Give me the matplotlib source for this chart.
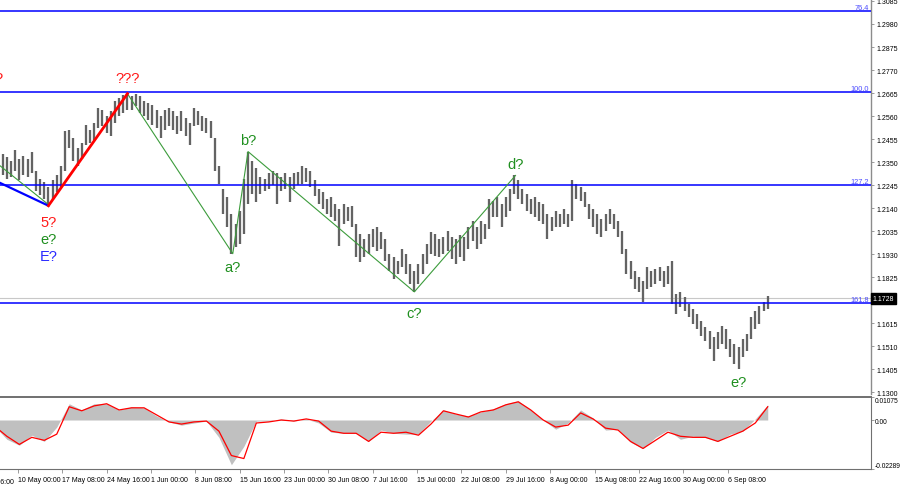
import matplotlib
matplotlib.use("Agg")
import matplotlib.pyplot as plt
import numpy as np
from matplotlib.transforms import blended_transform_factory

plt.rcParams['font.family'] = ['Liberation Sans', 'DejaVu Sans']

# ---------------- data ----------------
# price bars (H4 bar index = bar_start + bar_step * i)
bar_start, bar_step = 18, 3
highs = [
    1.2366, 1.2385, 1.2375, 1.2353, 1.2403, 1.2366, 1.2380, 1.2362, 1.2398, 1.2311,
    1.2275, 1.2257, 1.2238, 1.2266, 1.2293, 1.2330, 1.2490, 1.2495, 1.2458, 1.2412,
    1.2435, 1.2518, 1.2495, 1.2527, 1.2595, 1.2586, 1.2559, 1.2582, 1.2627, 1.2641,
    1.2655, 1.2664, 1.2650, 1.2659, 1.2650, 1.2627, 1.2618, 1.2609, 1.2586, 1.2559,
    1.2586, 1.2595, 1.2582, 1.2559, 1.2582, 1.2550, 1.2527, 1.2595, 1.2582, 1.2559,
    1.2550, 1.2536, 1.2458, 1.2330, 1.2229, 1.2192, 1.2115, 1.2069, 1.2128, 1.2275,
    1.2398, 1.2357, 1.2321, 1.2284, 1.2275, 1.2302, 1.2311, 1.2298, 1.2284, 1.2302,
    1.2284, 1.2298, 1.2307, 1.2330, 1.2321, 1.2311, 1.2266, 1.2229, 1.2215, 1.2183,
    1.2192, 1.2160, 1.2138, 1.2160, 1.2147, 1.2151, 1.2069, 1.2023, 1.2000, 1.2023,
    1.2046, 1.2055, 1.2032, 1.2000, 1.1932, 1.1918, 1.1900, 1.1954, 1.1932, 1.1886,
    1.1854, 1.1886, 1.1932, 1.1977, 1.2032, 1.2023, 1.2000, 1.2009, 1.2037, 1.2009,
    1.2000, 1.2019, 1.2009, 1.2055, 1.2082, 1.2055, 1.2082, 1.2069, 1.2183, 1.2174,
    1.2192, 1.2160, 1.2192, 1.2229, 1.2289, 1.2266, 1.2229, 1.2206, 1.2183, 1.2192,
    1.2170, 1.2160, 1.2115, 1.2101, 1.2128, 1.2115, 1.2138, 1.2115, 1.2266, 1.2252,
    1.2238, 1.2215, 1.2160, 1.2138, 1.2115, 1.2092, 1.2115, 1.2138, 1.2115, 1.2082,
    1.2037, 1.1954, 1.1900, 1.1854, 1.1826, 1.1808, 1.1872, 1.1854, 1.1863, 1.1872,
    1.1854, 1.1877, 1.1900, 1.1749, 1.1758, 1.1735, 1.1703, 1.1680, 1.1657, 1.1625,
    1.1597, 1.1579, 1.1552, 1.1575, 1.1602, 1.1588, 1.1543, 1.1520, 1.1506, 1.1543,
    1.1565, 1.1643, 1.1671, 1.1694, 1.1712, 1.1738,
]
lows = [
    1.2284, 1.2293, 1.2275, 1.2284, 1.2311, 1.2270, 1.2293, 1.2284, 1.2298, 1.2220,
    1.2202, 1.2183, 1.2160, 1.2183, 1.2215, 1.2238, 1.2311, 1.2412, 1.2357, 1.2334,
    1.2366, 1.2426, 1.2435, 1.2449, 1.2504, 1.2513, 1.2481, 1.2467, 1.2527, 1.2559,
    1.2572, 1.2586, 1.2586, 1.2604, 1.2572, 1.2559, 1.2540, 1.2518, 1.2504, 1.2458,
    1.2495, 1.2513, 1.2495, 1.2476, 1.2490, 1.2467, 1.2426, 1.2513, 1.2518, 1.2490,
    1.2481, 1.2458, 1.2311, 1.2252, 1.2115, 1.2055, 1.1932, 1.1963, 1.1977, 1.2023,
    1.2160, 1.2206, 1.2170, 1.2206, 1.2220, 1.2229, 1.2247, 1.2160, 1.2220, 1.2229,
    1.2170, 1.2229, 1.2247, 1.2252, 1.2261, 1.2238, 1.2197, 1.2160, 1.2138, 1.2115,
    1.2101, 1.2082, 1.1968, 1.2069, 1.2082, 1.2055, 1.1918, 1.1895, 1.1918, 1.1932,
    1.1963, 1.1945, 1.1954, 1.1900, 1.1854, 1.1817, 1.1840, 1.1872, 1.1840, 1.1794,
    1.1758, 1.1794, 1.1840, 1.1886, 1.1932, 1.1922, 1.1918, 1.1932, 1.1945, 1.1909,
    1.1886, 1.1918, 1.1900, 1.1954, 1.1991, 1.1954, 1.1977, 1.2000, 1.2046, 1.2101,
    1.2101, 1.2055, 1.2101, 1.2128, 1.2206, 1.2183, 1.2160, 1.2128, 1.2115, 1.2101,
    1.2082, 1.2069, 1.2000, 1.2037, 1.2055, 1.2055, 1.2069, 1.2055, 1.2082, 1.2183,
    1.2174, 1.2147, 1.2092, 1.2055, 1.2023, 1.2009, 1.2037, 1.2069, 1.2046, 1.2009,
    1.1932, 1.1840, 1.1817, 1.1772, 1.1758, 1.1712, 1.1772, 1.1781, 1.1794, 1.1808,
    1.1781, 1.1794, 1.1703, 1.1657, 1.1689, 1.1671, 1.1643, 1.1611, 1.1588, 1.1556,
    1.1533, 1.1497, 1.1442, 1.1497, 1.1520, 1.1497, 1.1460, 1.1428, 1.1405, 1.1460,
    1.1488, 1.1543, 1.1588, 1.1611, 1.1671, 1.1680,
]

# MACD (H4 bar index = macd_start + macd_step * k)
macd_start, macd_step = 15, 9
macd_main = [
    -0.0028, -0.0090, -0.0118, -0.0071, -0.0100, -0.0033, 0.0076, 0.0047, 0.0076, 0.0076,
    0.0047, 0.0062, 0.0057, 0.0019, -0.0009, -0.0024, -0.0014, -0.0005, -0.0081, -0.0209,
    -0.0123, -0.0005, -0.0005, 0.0005, -0.0005, 0.0005, -0.0014, -0.0057, -0.0062, -0.0062,
    -0.0100, -0.0047, -0.0062, -0.0066, -0.0066, -0.0005, 0.0047, 0.0028, 0.0019, 0.0038,
    0.0052, 0.0076, 0.0090, 0.0047, 0.0000, -0.0043, -0.0014, 0.0047, 0.0009, -0.0047,
    -0.0043, -0.0104, -0.0133, -0.0081, -0.0047, -0.0090, -0.0076, -0.0081, -0.0100, -0.0066,
    -0.0052, 0.0005, 0.0071,
]
macd_signal = [
    -0.0028, -0.0076, -0.0114, -0.0081, -0.0095, -0.0066, 0.0062, 0.0043, 0.0066, 0.0076,
    0.0047, 0.0057, 0.0057, 0.0024, -0.0009, -0.0019, -0.0009, -0.0005, -0.0052, -0.0166,
    -0.0180, -0.0014, -0.0009, 0.0000, -0.0005, 0.0005, -0.0005, -0.0052, -0.0062, -0.0062,
    -0.0100, -0.0057, -0.0062, -0.0057, -0.0071, -0.0019, 0.0043, 0.0028, 0.0014, 0.0038,
    0.0047, 0.0071, 0.0085, 0.0047, 0.0000, -0.0033, -0.0024, 0.0033, 0.0005, -0.0038,
    -0.0047, -0.0100, -0.0133, -0.0095, -0.0057, -0.0076, -0.0081, -0.0081, -0.0100, -0.0076,
    -0.0052, -0.0014, 0.0062,
]
macd_range = (-0.02289, 0.01075)

# fib levels
fib_levels = [1.3041, 1.2672, 1.2247, 1.1706]
fib_names = ["76.4", "100.0", "127.2", "161.8"]
last_price = 1.1728

# wave mark-up (bar index, price)
green_in_bars, green_in_prices = [0, 54], [1.2430, 1.2156]
blue_bars, blue_prices = [0, 54], [1.2312, 1.2151]
red_bars, red_prices = [54, 111], [1.2151, 1.2662]
green_bars = [111, 187, 198, 318, 391]
green_prices = [1.2662, 1.1932, 1.2398, 1.1758, 1.2289]

price_ticks = [1.3085, 1.2980, 1.2875, 1.2770, 1.2665, 1.2560, 1.2455, 1.2350, 1.2245,
               1.2140, 1.2035, 1.1930, 1.1825, 1.1615, 1.1510, 1.1405, 1.1300]
date_step = 32
date_labels = ["3 May 16:00", "10 May 00:00", "17 May 08:00", "24 May 16:00", "1 Jun 00:00",
               "8 Jun 08:00", "15 Jun 16:00", "23 Jun 00:00", "30 Jun 08:00", "7 Jul 16:00",
               "15 Jul 00:00", "22 Jul 08:00", "29 Jul 16:00", "8 Aug 00:00", "15 Aug 08:00",
               "22 Aug 16:00", "30 Aug 00:00", "6 Sep 08:00"]

# ---------------- layout ----------------
W, H = 900, 485
fig = plt.figure(figsize=(W / 100, H / 100), dpi=100)
fig.patch.set_facecolor('white')


def frac(x0, y0, x1, y1):
    return [x0 / W, 1 - y1 / H, (x1 - x0) / W, (y1 - y0) / H]


ax = fig.add_axes(frac(0, 0, 871, 395))
axm = fig.add_axes(frac(0, 398, 871, 470), sharex=ax)

xlim = (19.05, 647.5)
ax.set_xlim(*xlim)
ax.set_ylim(1.1292, 1.3094)

# bars
xb = bar_start + bar_step * np.arange(len(highs))
ax.vlines(xb, lows, highs, color='#636363', lw=1.65, zorder=3)

# levels
ylab_tr = blended_transform_factory(ax.transAxes, ax.transData)
ax.axhline(last_price, color='#c8c8c8', lw=0.8, zorder=1)
for lev, name in zip(fib_levels, fib_names):
    ax.axhline(lev, color='#0000ff', lw=1.1, zorder=4)
    ax.text(0.998, lev, name, transform=ylab_tr, ha='right', va='bottom',
            fontsize=5.3, color='#4a4aff', zorder=5)

# wave lines
green = '#3c9c3c'
ax.plot(green_in_bars, green_in_prices, color=green, lw=0.8, zorder=4)
ax.plot(blue_bars, blue_prices, color='#0000ff', lw=1.6, zorder=4)
ax.plot(red_bars, red_prices, color='#ff0000', lw=2.0, zorder=5)
ax.plot(green_bars, green_prices, color=green, lw=0.8, zorder=4)

lab_green = '#1f8f1f'
def lab(text, x, y, dy_px, color):
    ax.annotate(text, xy=(x, y), xytext=(0, dy_px / 1.389), textcoords='offset points',
                ha='center', va='center', fontsize=10.5, color=color, zorder=6)

lab('???', red_bars[1], red_prices[1], 16, '#ff1a1a')
lab('5?', red_bars[0], red_prices[0], -16, '#ff1a1a')
lab('e?', red_bars[0], red_prices[0], -33, lab_green)
lab('E?', red_bars[0], red_prices[0], -50, '#2a2aff')
lab('a?', green_bars[1], green_prices[1], -13, lab_green)
lab('b?', green_bars[2], green_prices[2], 12, lab_green)
lab('c?', green_bars[3], green_prices[3], -21, lab_green)
lab('d?', green_bars[4], green_prices[4], 11, lab_green)
lab('e?', xb[int(np.argmin(lows))], min(lows), -13, lab_green)
ax.text(0.003, 1.2733, '?', transform=ylab_tr, ha='right', va='center',
        fontsize=10.5, color='#ff1a1a', clip_on=False)

# main axis styling
for s in ('left', 'top', 'bottom'):
    ax.spines[s].set_visible(False)
ax.spines['right'].set_color('#8c8c8c')
ax.spines['right'].set_linewidth(1.0)
ax.yaxis.tick_right()
ax.set_yticks(price_ticks)
ax.set_yticklabels([f"{t:.4f}" for t in price_ticks])
ax.tick_params(axis='y', length=2.5, width=0.6, color='#8c8c8c', labelsize=5, pad=1.5)
ax.tick_params(axis='x', which='both', bottom=False, labelbottom=False)
ax.text(1.002, last_price, '1.1728', transform=ylab_tr, ha='left', va='center',
        fontsize=5, color='white', zorder=7, clip_on=False,
        bbox=dict(boxstyle='square,pad=0.3', fc='black', ec='black'))

# MACD
xm = macd_start + macd_step * np.arange(len(macd_main))
axm.fill_between(xm, 0, macd_main, color='#c0c0c0', lw=0, zorder=2)
axm.plot(xm, macd_signal, color='#ff0000', lw=0.9, zorder=3)
axm.set_ylim(*macd_range)
axm.spines['left'].set_visible(False)
for s in ('top', 'bottom', 'right'):
    axm.spines[s].set_color('#707070')
axm.spines['top'].set_linewidth(1.4)
axm.yaxis.tick_right()
axm.set_yticks([macd_range[1], 0.0, macd_range[0]])
axm.set_yticklabels(['0.01075', '0.00', '-0.02289'])
labs = axm.get_yticklabels()
labs[0].set_va('top')
labs[2].set_va('bottom')
axm.tick_params(axis='y', length=2, width=0.6, color='#8c8c8c', labelsize=4.8, pad=1)

tick_bars = [date_step * j for j in range(len(date_labels))]
axm.set_xticks(tick_bars[1:])
axm.set_xticklabels(date_labels[1:], ha='left')
axm.tick_params(axis='x', length=3, width=0.6, color='#8c8c8c', labelsize=5, pad=2)
for t in axm.get_xticklabels():
    t.set_horizontalalignment('left')
xlab_tr = blended_transform_factory(axm.transData, axm.transAxes)
axm.text(tick_bars[0] + 0.7, -0.12, date_labels[0], transform=xlab_tr, ha='left', va='top',
         fontsize=5, clip_on=False)
axm.set_xlim(*xlim)

fig.savefig('out.png', dpi=100, facecolor='white')
